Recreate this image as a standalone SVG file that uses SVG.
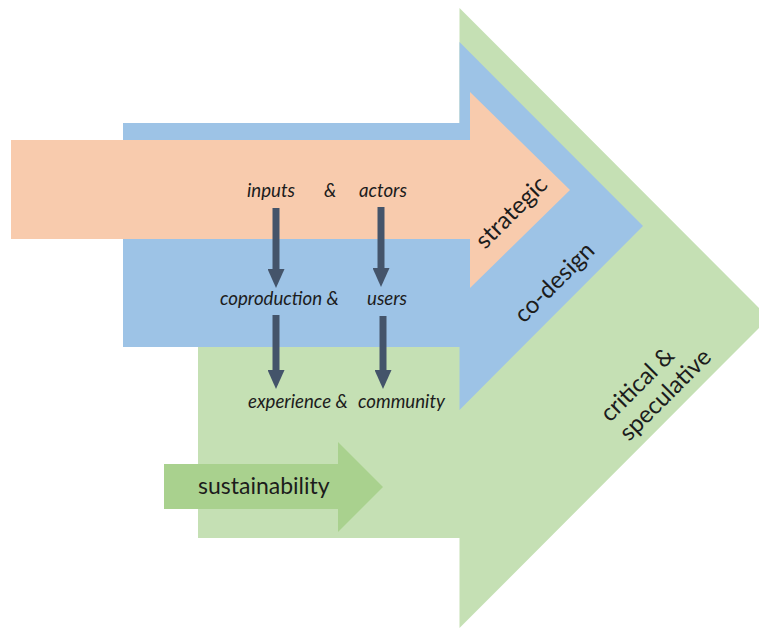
<svg xmlns="http://www.w3.org/2000/svg" width="759" height="630" viewBox="0 0 759 630">
<defs>
<style>
.lbl{font-family:Lato,"Open Sans","Liberation Sans",sans-serif;fill:#1c1c1c}
.it{font-style:italic;font-size:18.67px}
.big{font-size:24px}
.con{stroke:#44546A;stroke-width:7;fill:none}
</style>
<marker id="ah" markerUnits="userSpaceOnUse" markerWidth="19" markerHeight="17" refX="0" refY="8.5" orient="auto" viewBox="0 0 19 17">
<path d="M0,0 L19,8.5 L0,17 Z" fill="#44546A"/>
</marker>
</defs>
<rect width="759" height="630" fill="#fff"/>
<g id="critical-speculative">
<polygon points="198,200 459.5,200 459.5,8 769,318 459.5,628 459.5,538 198,538" fill="#C5E0B4"/>
<g transform="translate(610,423) rotate(-45)">
<text class="lbl big" x="0" y="0">critical &amp;</text>
<text class="lbl big" x="0" y="27">speculative</text>
</g>
</g>
<g id="co-design">
<polygon points="123,123 459.5,123 459.5,42 643,226 459.5,410 459.5,347 123,347" fill="#9DC3E6"/>
<text class="lbl big" text-anchor="middle" transform="translate(560,288) rotate(-45)">co-design</text>
</g>
<g id="strategic">
<polygon points="11,140 470,140 470,92 570,190 470,288 470,239 11,239" fill="#F8CBAD"/>
<text class="lbl big" text-anchor="middle" transform="translate(517,218) rotate(-45)">strategic</text>
</g>
<g id="sustainability">
<polygon points="164,464 338,464 338,442 383,487 338,532 338,509 164,509" fill="#A9D18E"/>
<text class="lbl" font-size="23" x="198" y="494">sustainability</text>
</g>
<g id="inputs-actors">
<text class="lbl it" x="247" y="197">inputs</text>
<text class="lbl it" x="324" y="197">&amp;</text>
<text class="lbl it" x="359" y="197">actors</text>
</g>
<g id="coproduction-users">
<text class="lbl it" x="220" y="305">coproduction &amp;</text>
<text class="lbl it" x="367" y="305">users</text>
</g>
<g id="experience-community">
<text class="lbl it" x="248" y="408">experience &amp;</text>
<text class="lbl it" x="358" y="408">community</text>
</g>
<g id="connectors">
<line class="con" x1="276" y1="208" x2="276" y2="269" marker-end="url(#ah)"/>
<line class="con" x1="381" y1="207" x2="381" y2="268" marker-end="url(#ah)"/>
<line class="con" x1="276" y1="315" x2="276" y2="370" marker-end="url(#ah)"/>
<line class="con" x1="383" y1="316" x2="383" y2="370" marker-end="url(#ah)"/>
</g>
</svg>
